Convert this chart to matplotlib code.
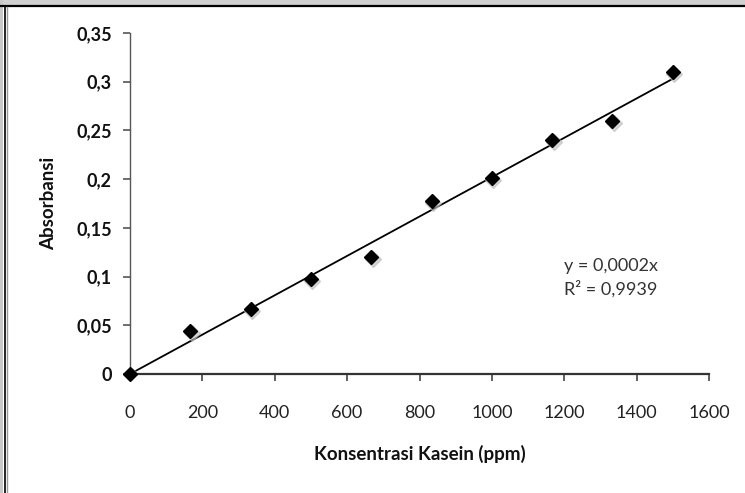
import matplotlib
matplotlib.use("Agg")
import matplotlib.pyplot as plt
import numpy as np
from matplotlib.patches import Rectangle
from matplotlib.lines import Line2D

# Data
konsentrasi = [0, 166.7, 333.3, 500, 666.7, 833.3, 1000, 1166.7, 1333.3, 1500]
absorbansi = [0.0, 0.044, 0.067, 0.0975, 0.120, 0.178, 0.201, 0.240, 0.260, 0.310]
x_ticks = [0, 200, 400, 600, 800, 1000, 1200, 1400, 1600]
y_ticks = [0, 0.05, 0.1, 0.15, 0.2, 0.25, 0.3, 0.35]
y_tick_labels = ["0", "0,05", "0,1", "0,15", "0,2", "0,25", "0,3", "0,35"]
equation_text = "y = 0,0002x\nR² = 0,9939"

plt.rcParams['font.family'] = ['Lato', 'DejaVu Sans']

W, H = 745, 493
fig = plt.figure(figsize=(W / 100, H / 100), dpi=100)
fig.patch.set_facecolor('white')

ax = fig.add_axes([130 / W, 1 - 374 / H, (709 - 130) / W, (374 - 33) / H])
ax.set_facecolor('white')

x = np.array(konsentrasi)
y = np.array(absorbansi)
slope = np.sum(x * y) / np.sum(x * x)
xl = np.array([0, x.max()])
ax.plot(xl, slope * xl, color='black', lw=1.3, zorder=2, solid_capstyle='butt')

# subtle shadow under markers
ax.plot(x, y, 'D', ms=8, color='#bbbbbb', alpha=0.6, zorder=2,
        transform=ax.transData + matplotlib.transforms.ScaledTranslation(1.5 / 100, -2 / 100, fig.dpi_scale_trans))
ax.plot(x, y, 'D', ms=7.5, color='black', zorder=3, clip_on=False)

ax.set_xlim(0, 1600)
ax.set_ylim(0, 0.35)
ax.set_xticks(x_ticks)
ax.set_xticklabels([str(v) for v in x_ticks], fontsize=13, color='#222222')
ax.set_yticks(y_ticks)
ax.set_yticklabels(y_tick_labels, fontsize=13, fontweight='bold', color='#111111')

for s in ['top', 'right']:
    ax.spines[s].set_visible(False)
ax.spines['left'].set_color('#555555')
ax.spines['left'].set_linewidth(1.0)
ax.spines['bottom'].set_color('#333333')
ax.spines['bottom'].set_linewidth(1.6)
ax.tick_params(axis='x', direction='out', length=5, width=1.2, color='#444444', pad=17.5)
ax.tick_params(axis='y', direction='out', length=5, width=1.2, color='#555555', pad=8)

ax.set_xlabel("Konsentrasi Kasein (ppm)", fontsize=13.5, fontweight='bold', labelpad=17, color='#111111')
ax.set_ylabel("Absorbansi", fontsize=13.5, fontweight='bold', labelpad=14, color='#111111')

ax.text(1200, 0.0985, equation_text, fontsize=13, color='#333333', va='center', ha='left', linespacing=1.45)

# Frame decorations
fig.add_artist(Rectangle((0, 1 - 5 / H), 1, 5 / H, transform=fig.transFigure, color='#d0d0d0', lw=0))
fig.add_artist(Line2D([0, 1], [1 - 6 / H, 1 - 6 / H], transform=fig.transFigure, color='black', lw=1.6))
fig.add_artist(Rectangle((0, 0), 3 / W, 1, transform=fig.transFigure, color='#c8c8c8', lw=0))
fig.add_artist(Line2D([4.5 / W, 4.5 / W], [0, 1 - 6 / H], transform=fig.transFigure, color='black', lw=1.2))
fig.add_artist(Line2D([7.5 / W, 7.5 / W], [0, 1 - 7 / H], transform=fig.transFigure, color='#999999', lw=1.0))

fig.savefig("out.png", dpi=100)
